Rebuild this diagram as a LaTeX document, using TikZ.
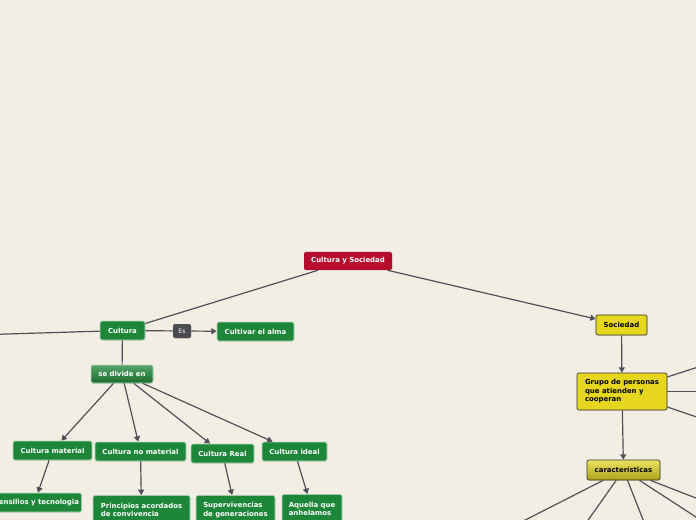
\documentclass[tikz,border=0pt]{standalone}
\usepackage{fontspec}
\setmainfont{DejaVu Sans}
\usetikzlibrary{arrows.meta,shadows}
\definecolor{paper}{HTML}{F3EEE3}
\definecolor{rubyred}{HTML}{B80C2E}
\definecolor{leafgreen}{HTML}{1D8638}
\definecolor{lemon}{HTML}{E6D71E}
\definecolor{slate}{HTML}{4B4B52}
\definecolor{wire}{HTML}{50505A}
\tikzset{
  topic/.style={rounded corners=1.5pt,inner sep=2pt,minimum height=14.25pt,
    font=\fontsize{5.2}{6.4}\selectfont\bfseries,
    drop shadow={opacity=0.2,shadow xshift=0.3pt,shadow yshift=-0.6pt}},
  greentopic/.style={topic,fill=leafgreen,draw=white!70!leafgreen,line width=0.5pt,text=white},
  yellowtopic/.style={topic,fill=lemon,draw=black!80,line width=0.5pt,text=black},
  leaftopic/.style={greentopic,anchor=north,align=left,minimum height=22pt},
  link/.style={draw=wire,line width=0.9pt},
  arrowlink/.style={link,-{Triangle[length=4pt,width=4.5pt]}},
}

\begin{document}
\begin{tikzpicture}[x=0.75pt,y=-0.75pt]
  \useasboundingbox (0,0) rectangle (696,520);
  \fill[paper] (0,0) rectangle (696,520);
  \clip (0,0) rectangle (696,520);

  % centre
  \node[topic,fill=rubyred,text=white,minimum width=66pt,minimum height=13.5pt] (cys) at (348,261) {Cultura y Sociedad};

  % cultura branch
  \node[greentopic,minimum width=33.75pt] (cultura) at (122.5,330.5) {Cultura};
  \node[topic,fill=slate,text=white!80,minimum width=13.5pt,minimum height=10.5pt,
        font=\fontsize{4.6}{5}\selectfont] (es) at (182,331) {Es};
  \node[greentopic,minimum width=57.75pt] (alma) at (255.5,331.5) {Cultivar el alma};
  \node[greentopic,top color=leafgreen!75!white,bottom color=leafgreen!80!black,
        minimum width=46.5pt,minimum height=13.5pt] (divide) at (122,374) {se divide en};
  \node[greentopic,minimum width=59.25pt] (cmat) at (52.5,450.5) {Cultura material};
  \node[greentopic,minimum width=68.25pt] (cnomat) at (140.5,451.5) {Cultura no material};
  \node[greentopic,minimum width=47.25pt] (creal) at (222.5,453.5) {Cultura Real};
  \node[greentopic,minimum width=48.75pt] (cideal) at (294.5,451.5) {Cultura ideal};
  \node[greentopic,anchor=east] (utensilios) at (82,502.5) {Utensilios y tecnologia};
  \node[leaftopic,minimum width=72.75pt] (principios) at (141.5,495) {Principios acordados\\de convivencia};
  \node[leaftopic,minimum width=59.25pt] (superviv) at (235.5,495) {Supervivencias\\de generaciones};
  \node[leaftopic,minimum width=45pt] (aquella) at (312,494) {Aquella que\\anhelamos};

  % sociedad branch
  \node[yellowtopic,minimum width=38.25pt,minimum height=15pt] (sociedad) at (621.5,325) {Sociedad};
  \node[yellowtopic,align=left,minimum width=67.5pt,minimum height=27.75pt] (grupo) at (622,391.5)
        {Grupo de personas\\que atienden y\\cooperan};
  \node[yellowtopic,top color=lemon!70!white,bottom color=lemon!75!black,
        minimum width=54.75pt,minimum height=15pt] (rasgos) at (623.5,470) {características};

  % free ends outside the page
  \coordinate (offleft) at (-20,334.8);
  \coordinate (grupoA) at (720,360);
  \coordinate (grupoB) at (720,391.5);
  \coordinate (grupoC) at (720,425);
  \coordinate (rasgoA) at (486,540);
  \coordinate (rasgoB) at (574,540);
  \coordinate (rasgoC) at (651,540);
  \coordinate (rasgoD) at (720,532.6);
  \coordinate (rasgoE) at (720,507.3);

  \draw[link] (cys) -- (cultura);
  \draw[arrowlink] (cys) -- (sociedad);
  \draw[link] (cultura) -- (offleft);
  \draw[link] (cultura) -- (es);
  \draw[arrowlink] (es) -- (alma);
  \draw[link] (cultura) -- (divide);
  \foreach \kid in {cmat,cnomat,creal,cideal}
    \draw[arrowlink] (divide) -- (\kid);
  \foreach \a/\b in {cmat/utensilios,cnomat/principios,creal/superviv,cideal/aquella}
    \draw[arrowlink] (\a) -- (\b);
  \draw[arrowlink] (sociedad) -- (grupo);
  \draw[arrowlink] (grupo) -- (rasgos);
  \foreach \c in {grupoA,grupoB,grupoC}
    \draw[link] (grupo) -- (\c);
  \foreach \c in {rasgoA,rasgoB,rasgoC,rasgoD,rasgoE}
    \draw[link] (rasgos) -- (\c);
\end{tikzpicture}
\end{document}
